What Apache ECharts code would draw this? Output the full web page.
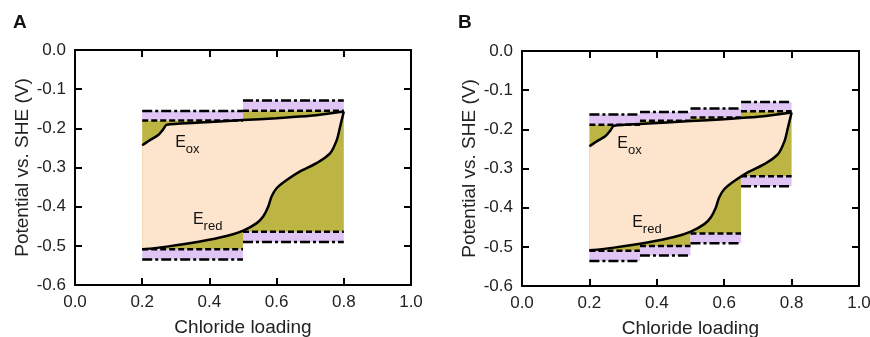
<!DOCTYPE html>
<html>
<head>
<meta charset="utf-8">
<script src="https://cdn.jsdelivr.net/npm/echarts@6/dist/echarts.min.js"></script>
<style>html,body{margin:0;padding:0;background:#fff}#chart{width:870px;height:337px}</style>
</head>
<body>
<div id="chart"></div>
<script>
// ---- data ----
const xTickValues = [0, 0.2, 0.4, 0.6, 0.8, 1.0];
const yTickValues = [0, -0.1, -0.2, -0.3, -0.4, -0.5, -0.6];

// Oxidation potential curve (E_ox)
const eoxX = [0.2, 0.223, 0.248, 0.263, 0.273, 0.36, 0.5, 0.6, 0.7, 0.8];
const eoxY = [-0.243, -0.230, -0.217, -0.202, -0.191, -0.186, -0.179, -0.174, -0.168, -0.157];
// Reduction potential curve (E_red)
const eredX = [0.2, 0.273, 0.372, 0.451, 0.501, 0.541, 0.560, 0.575, 0.585, 0.600, 0.630, 0.670, 0.719, 0.759, 0.779, 0.789, 0.8];
const eredY = [-0.509, -0.502, -0.489, -0.475, -0.461, -0.442, -0.425, -0.400, -0.374, -0.353, -0.332, -0.310, -0.289, -0.264, -0.230, -0.196, -0.157];

// Panel A steps
const aStart = [0.2, 0.5];
const aEnd = [0.5, 0.8];
const aUpperDashed = [-0.180, -0.155];
const aUpperDashDot = [-0.156, -0.129];
const aLowerDashed = [-0.509, -0.464];
const aLowerDashDot = [-0.535, -0.490];

// Panel B steps
const bStart = [0.2, 0.35, 0.5, 0.65];
const bEnd = [0.35, 0.5, 0.65, 0.8];
const bUpperDashed = [-0.188, -0.178, -0.170, -0.154];
const bUpperDashDot = [-0.162, -0.156, -0.147, -0.130];
const bLowerDashed = [-0.510, -0.498, -0.466, -0.320];
const bLowerDashDot = [-0.536, -0.522, -0.491, -0.345];

// label anchors
const aLabels = { ox: [0.298, -0.237], red: [0.351, -0.434] };
const bLabels = { ox: [0.283, -0.236], red: [0.327, -0.438] };

// ---- styles ----
const OLIVE = '#BDB543';
const PEACH = '#FDE4CD';
const LAV = '#DFC4F4';
const FONT = '"Liberation Sans", Arial, sans-serif';

function zip(xs, ys) { return xs.map((x, i) => [x, ys[i]]); }

function bandItems(starts, ends, inner, outer) {
  return starts.map((s, i) => [s, ends[i], inner[i], outer[i]]);
}

function olivePolygon(starts, ends, upper, lower) {
  const pts = [];
  starts.forEach((s, i) => { pts.push([s, upper[i]]); pts.push([ends[i], upper[i]]); });
  for (let i = starts.length - 1; i >= 0; i--) { pts.push([ends[i], lower[i]]); pts.push([starts[i], lower[i]]); }
  return pts;
}

function peachPolygon() {
  const pts = zip(eoxX, eoxY);
  const red = zip(eredX, eredY).reverse();
  return pts.concat(red);
}

function polySeries(pts, color, xi, yi) {
  return {
    type: 'custom', xAxisIndex: xi, yAxisIndex: yi, silent: true, animation: false,
    data: [pts[0]],
    renderItem: function (params, api) {
      return { type: 'polygon', shape: { points: pts.map(p => api.coord(p)) }, style: { fill: color } };
    }
  };
}

function bandSeries(items, xi, yi) {
  return {
    type: 'custom', xAxisIndex: xi, yAxisIndex: yi, silent: true, animation: false,
    data: items,
    encode: { x: [0, 1], y: [2, 3] },
    renderItem: function (params, api) {
      const x0 = api.value(0), x1 = api.value(1), yi2 = api.value(2), yo = api.value(3);
      const a = api.coord([x0, yi2]), c = api.coord([x1, yi2]);
      const d = api.coord([x0, yo]), b = api.coord([x1, yo]);
      return {
        type: 'group', children: [
          { type: 'rect', shape: { x: a[0], y: Math.min(a[1], d[1]), width: c[0] - a[0], height: Math.abs(d[1] - a[1]) }, style: { fill: LAV } },
          { type: 'line', shape: { x1: a[0], y1: a[1], x2: c[0], y2: c[1] }, style: { stroke: '#000', lineWidth: 2.5, lineDash: [6, 3] } },
          { type: 'line', shape: { x1: d[0], y1: d[1], x2: b[0], y2: b[1] }, style: { stroke: '#000', lineWidth: 2.5, lineDash: [10, 3, 3, 3] } }
        ]
      };
    }
  };
}

function curveSeries(xs, ys, xi, yi) {
  return {
    type: 'line', xAxisIndex: xi, yAxisIndex: yi, data: zip(xs, ys), showSymbol: false, smooth: 0.3,
    silent: true, animation: false, lineStyle: { color: '#000', width: 2.5 }
  };
}

function labelSeries(anchor, xi, yi) {
  return {
    type: 'custom', xAxisIndex: xi, yAxisIndex: yi, silent: true, animation: false,
    data: [anchor.ox, anchor.red],
    renderItem: function (params, api) {
      const p = api.coord([api.value(0), api.value(1)]);
      const sub = params.dataIndex === 0 ? 'ox' : 'red';
      return {
        type: 'text', x: p[0], y: p[1],
        style: {
          text: '{e|E}{s|' + sub + '}', align: 'left', verticalAlign: 'middle',
          rich: {
            e: { fontSize: 16, fontFamily: FONT, fill: '#111' },
            s: { fontSize: 13, fontFamily: FONT, fill: '#111', padding: [13, 0, 0, 0] }
          }
        }
      };
    }
  };
}

const tickStyle = { inside: true, length: 7, lineStyle: { color: '#000', width: 2 } };
const lineStyle = { show: true, onZero: false, lineStyle: { color: '#000', width: 2 } };
const labelStyle = { fontSize: 17, fontFamily: FONT, color: '#222' };

function xAxes(gi) {
  return [
    { gridIndex: gi, type: 'value', min: 0, max: 1, interval: 0.2, position: 'bottom',
      axisLine: lineStyle, axisTick: tickStyle, splitLine: { show: false },
      axisLabel: Object.assign({ margin: 9, formatter: v => v.toFixed(1) }, labelStyle),
      name: 'Chloride loading', nameLocation: 'middle', nameGap: 33,
      nameTextStyle: { fontSize: 19, fontFamily: FONT, color: '#222' } },
    { gridIndex: gi, type: 'value', min: 0, max: 1, interval: 0.2, position: 'top',
      axisLine: lineStyle, axisTick: tickStyle, splitLine: { show: false }, axisLabel: { show: false } }
  ];
}
function yAxes(gi, gap) {
  return [
    { gridIndex: gi, type: 'value', min: -0.6, max: 0, interval: 0.1, position: 'left',
      axisLine: lineStyle, axisTick: tickStyle, splitLine: { show: false },
      axisLabel: Object.assign({ margin: 9, formatter: v => v.toFixed(1) }, labelStyle),
      name: 'Potential vs. SHE (V)', nameLocation: 'middle', nameGap: gap, nameRotate: 90,
      nameTextStyle: { fontSize: 19, fontFamily: FONT, color: '#222' } },
    { gridIndex: gi, type: 'value', min: -0.6, max: 0, interval: 0.1, position: 'right',
      axisLine: lineStyle, axisTick: tickStyle, splitLine: { show: false }, axisLabel: { show: false } }
  ];
}

const option = {
  backgroundColor: '#fff',
  animation: false,
  title: [
    { text: 'A', left: 8, top: 8, textStyle: { fontSize: 19, fontWeight: 'bold', fontFamily: FONT, color: '#111' } },
    { text: 'B', left: 453, top: 8, textStyle: { fontSize: 19, fontWeight: 'bold', fontFamily: FONT, color: '#111' } }
  ],
  grid: [
    { left: 75, top: 50, width: 336, height: 235, containLabel: false, outerBoundsMode: 'none' },
    { left: 522, top: 51, width: 337, height: 235, containLabel: false, outerBoundsMode: 'none' }
  ],
  xAxis: xAxes(0).concat(xAxes(1)),
  yAxis: yAxes(0, 43).concat(yAxes(1, 43)),
  series: [
    polySeries(olivePolygon(aStart, aEnd, aUpperDashed, aLowerDashed), OLIVE, 0, 0),
    polySeries(peachPolygon(), PEACH, 0, 0),
    bandSeries(bandItems(aStart, aEnd, aUpperDashed, aUpperDashDot), 0, 0),
    bandSeries(bandItems(aStart, aEnd, aLowerDashed, aLowerDashDot), 0, 0),
    curveSeries(eoxX, eoxY, 0, 0),
    curveSeries(eredX, eredY, 0, 0),
    labelSeries(aLabels, 0, 0),

    polySeries(olivePolygon(bStart, bEnd, bUpperDashed, bLowerDashed), OLIVE, 2, 2),
    polySeries(peachPolygon(), PEACH, 2, 2),
    bandSeries(bandItems(bStart, bEnd, bUpperDashed, bUpperDashDot), 2, 2),
    bandSeries(bandItems(bStart, bEnd, bLowerDashed, bLowerDashDot), 2, 2),
    curveSeries(eoxX, eoxY, 2, 2),
    curveSeries(eredX, eredY, 2, 2),
    labelSeries(bLabels, 2, 2)
  ]
};

const chart = echarts.init(document.getElementById('chart'), null, { renderer: 'canvas' });
chart.setOption(option);
</script>
</body>
</html>
